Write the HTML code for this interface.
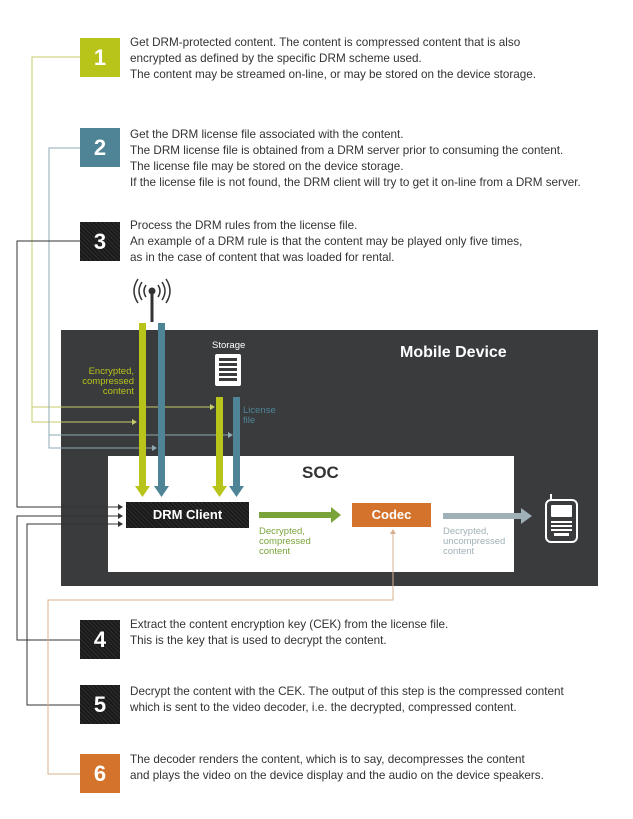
<!DOCTYPE html>
<html><head><style>
body{margin:0;width:633px;height:819px;background:#fff;position:relative;font-family:"Liberation Sans",sans-serif;overflow:hidden}
.a{position:absolute}
.num{position:absolute;left:80px;width:40px;height:39px;color:#fff;font-weight:bold;font-size:22px;text-align:center;line-height:39px}
.blk{background:repeating-linear-gradient(45deg,#1a1a1a 0 2px,#2e2e2e 2px 3px)}
.t{position:absolute;left:130px;font-size:11.7px;line-height:16px;color:#333}
.lbl{position:absolute;font-size:9.5px;line-height:10px}
</style></head><body>
<div class="num" style="top:38px;background:#b8c41a">1</div>
<div class="num" style="top:128px;background:#4e8495">2</div>
<div class="num blk" style="top:222px">3</div>
<div class="num blk" style="top:620px">4</div>
<div class="num blk" style="top:685px">5</div>
<div class="num" style="top:754px;background:#d3732c">6</div>
<div class="t" style="top:35px">Get DRM-protected content. The content is compressed content that is also<br>encrypted as defined by the specific DRM scheme used.<br>The content may be streamed on-line, or may be stored on the device storage.</div>
<div class="t" style="top:127px">Get the DRM license file associated with the content.<br>The DRM license file is obtained from a DRM server prior to consuming the content.<br>The license file may be stored on the device storage.<br>If the license file is not found, the DRM client will try to get it on-line from a DRM server.</div>
<div class="t" style="top:218px">Process the DRM rules from the license file.<br>An example of a DRM rule is that the content may be played only five times,<br>as in the case of content that was loaded for rental.</div>
<div class="t" style="top:617px">Extract the content encryption key (CEK) from the license file.<br>This is the key that is used to decrypt the content.</div>
<div class="t" style="top:684px">Decrypt the content with the CEK. The output of this step is the compressed content<br>which is sent to the video decoder, i.e. the decrypted, compressed content.</div>
<div class="t" style="top:752px">The decoder renders the content, which is to say, decompresses the content<br>and plays the video on the device display and the audio on the device speakers.</div>

<div class="a" style="left:61px;top:330px;width:537px;height:256px;background:#3a3b3d"></div>
<div class="a" style="left:400px;top:344px;color:#fff;font-weight:bold;font-size:16px">Mobile Device</div>
<div class="a" style="left:108px;top:456px;width:406px;height:116px;background:#fff"></div>
<div class="a" style="left:302px;top:463px;color:#333;font-weight:bold;font-size:17px">SOC</div>
<div class="a" style="left:212px;top:340px;color:#fff;font-size:9.5px">Storage</div>
<div class="a" style="left:215px;top:354px;width:26px;height:32px;background:#fff;border-radius:2px"></div>
<div class="a" style="left:219px;top:358px;width:18px;height:24px;background:repeating-linear-gradient(#3a3b3d 0 3px,#fff 3px 5px)"></div>
<div class="lbl" style="left:80px;top:367px;width:54px;text-align:right;color:#b8c41a">Encrypted,<br>compressed<br>content</div>
<div class="lbl" style="left:243px;top:406px;color:#4e8495">License<br>file</div>
<div class="a blk" style="left:126px;top:502px;width:123px;height:26px;color:#fff;font-weight:bold;font-size:13px;text-align:center;line-height:26px">DRM Client</div>
<div class="a" style="left:352px;top:503px;width:79px;height:24px;background:#d3732c;color:#fff;font-weight:bold;font-size:13px;text-align:center;line-height:24px">Codec</div>
<div class="lbl" style="left:259px;top:527px;color:#7aa33a">Decrypted,<br>compressed<br>content</div>
<div class="lbl" style="left:443px;top:527px;color:#9fb0b6">Decrypted,<br>uncompressed<br>content</div>

<svg class="a" style="left:0;top:0" width="633" height="819">
<g fill="none" stroke-width="1">
<polyline points="80,57 32,57 32,422 132,422" stroke="#c7cc6a"/>
<polyline points="32,407 210,407" stroke="#c7cc6a"/>
<polyline points="80,148 49,148 49,448 152,448" stroke="#8fa9b3"/>
<polyline points="49,435 228,435" stroke="#8fa9b3"/>
<polyline points="80,241 17,241 17,507 118,507" stroke="#333"/>
<polyline points="80,640 17,640 17,516 118,516" stroke="#333"/>
<polyline points="80,705 27,705 27,524 118,524" stroke="#333"/>
<polyline points="80,774 48,774 48,600 393,600 393,534" stroke="#d9b08f"/>
</g>
<g>
<polygon points="210,404 215,407 210,410" fill="#c7cc6a"/>
<polygon points="132,419 137,422 132,425" fill="#c7cc6a"/>
<polygon points="228,432 233,435 228,438" fill="#8fa9b3"/>
<polygon points="152,445 157,448 152,451" fill="#8fa9b3"/>
<polygon points="118,504 123,507 118,510" fill="#333"/>
<polygon points="118,513 123,516 118,519" fill="#333"/>
<polygon points="118,521 123,524 118,527" fill="#333"/>
<polygon points="390,534 393,529 396,534" fill="#d9b08f"/>
</g>
<line x1="152" y1="290" x2="152" y2="322" stroke="#333" stroke-width="3"/>
<circle cx="152" cy="291" r="3.5" fill="#333"/>
<g fill="none" stroke="#333" stroke-width="1.5">
<path d="M146,285 q-4,6 0,12"/><path d="M142,282 q-6,9 0,18"/><path d="M138,279 q-8,12 0,24"/>
<path d="M158,285 q4,6 0,12"/><path d="M162,282 q6,9 0,18"/><path d="M166,279 q8,12 0,24"/>
</g>
<rect x="139" y="323" width="7" height="164" fill="#b8c41a"/><polygon points="135,486 150,486 142.5,497" fill="#b8c41a"/>
<rect x="158" y="323" width="7" height="164" fill="#4e8495"/><polygon points="154,486 169,486 161.5,497" fill="#4e8495"/>
<rect x="216" y="397" width="7" height="90" fill="#b8c41a"/><polygon points="212,486 227,486 219.5,497" fill="#b8c41a"/>
<rect x="233" y="397" width="7" height="90" fill="#4e8495"/><polygon points="229,486 244,486 236.5,497" fill="#4e8495"/>
<rect x="259" y="512" width="73" height="6" fill="#7aa33a"/><polygon points="331,507 341,515 331,523" fill="#7aa33a"/>
<rect x="443" y="513" width="79" height="6" fill="#9fb0b6"/><polygon points="521,508 532,516 521,524" fill="#9fb0b6"/>
<rect x="546" y="500" width="31" height="42" rx="5" fill="none" stroke="#fff" stroke-width="2"/>
<line x1="551" y1="500" x2="551" y2="494" stroke="#fff" stroke-width="2"/>
<rect x="551" y="505" width="21" height="12" rx="1" fill="#fff"/>
<g fill="#fff"><rect x="551" y="521" width="21" height="2"/><rect x="551" y="525" width="21" height="2"/><rect x="551" y="529" width="21" height="2"/><rect x="554" y="533" width="15" height="3"/></g>
</svg>
</body></html>
